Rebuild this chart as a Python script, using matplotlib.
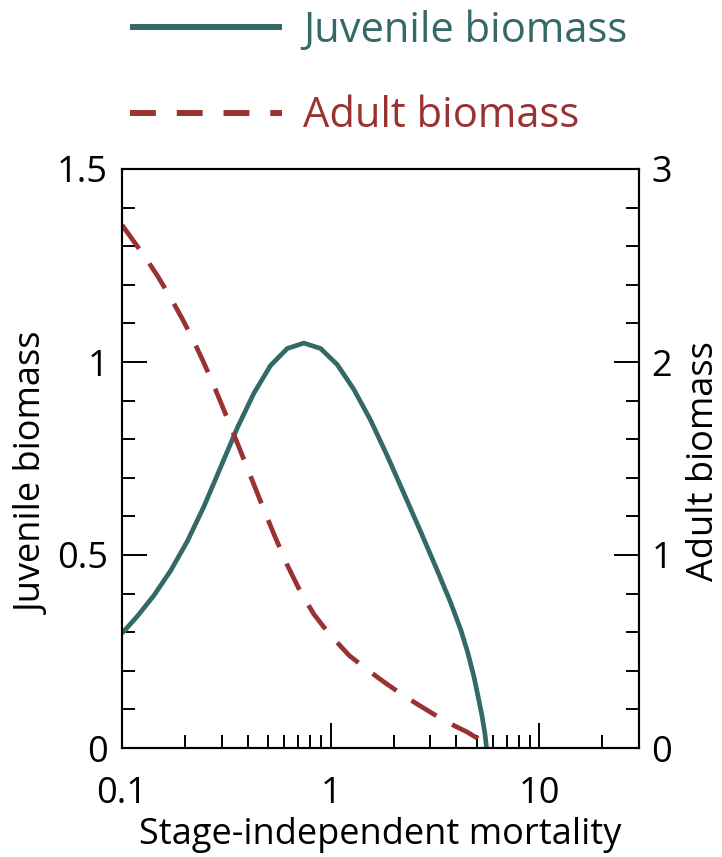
import numpy as np
import matplotlib
matplotlib.use('Agg')
import matplotlib.pyplot as plt
from matplotlib.ticker import MultipleLocator, FixedLocator, NullFormatter

plt.rcParams['font.family'] = ['Open Sans', 'DejaVu Sans']

# --- data ---
juv_mort = [0.1, 0.1183, 0.1421, 0.1708, 0.2053, 0.2466, 0.2966, 0.3566,
            0.4283, 0.515, 0.6192, 0.7437, 0.8944, 1.0755, 1.291, 1.553,
            1.866, 2.244, 2.70, 3.24, 3.76, 4.20, 4.52, 4.86, 5.13, 5.30,
            5.48, 5.58]
juv_biomass = [0.297, 0.341, 0.395, 0.459, 0.535, 0.625, 0.727, 0.829,
               0.919, 0.991, 1.035, 1.049, 1.035, 0.993, 0.929, 0.849,
               0.757, 0.659, 0.560, 0.460, 0.376, 0.306, 0.250, 0.184, 0.123,
               0.085, 0.038, 0.0]

adult_mort = [0.1, 0.1297, 0.1476, 0.171, 0.1944, 0.2173, 0.2423, 0.2706,
              0.302, 0.3435, 0.3837, 0.4285, 0.4786, 0.5346, 0.619, 0.7178,
              0.831, 0.98, 1.23, 1.553, 1.80, 2.08, 2.60, 3.24, 3.90, 4.52,
              5.05, 5.58]
adult_biomass = [2.71, 2.540, 2.448, 2.333, 2.224, 2.123, 2.014, 1.898,
                 1.773, 1.625, 1.495, 1.365, 1.235, 1.108, 0.948, 0.807,
                 0.693, 0.593, 0.478, 0.393, 0.342, 0.295, 0.227, 0.164,
                 0.116, 0.082, 0.050, 0.0]

y_left_ticks = [0, 0.5, 1, 1.5]
y_left_labels = ['0', '0.5', '1', '1.5']
y_right_ticks = [0, 1, 2, 3]
y_right_labels = ['0', '1', '2', '3']
x_ticks = [0.1, 1, 10]
x_labels = ['0.1', '1', '10']

JUV_COLOR = '#336a68'
ADULT_COLOR = '#9b3232'

fig = plt.figure(figsize=(7.22, 8.57), dpi=100)
ax = fig.add_axes([122 / 722, 1 - 748 / 857, 517 / 722, 579 / 857])
ax2 = ax.twinx()

l1, = ax.plot(juv_mort, juv_biomass, color=JUV_COLOR, lw=3.4,
              solid_capstyle='butt', solid_joinstyle='round',
              label='Juvenile biomass')
l2, = ax2.plot(adult_mort, adult_biomass, color=ADULT_COLOR, lw=3.4,
               dashes=(6.2, 3.8), dash_capstyle='butt', dash_joinstyle='round',
               label='Adult biomass')

ax.set_xscale('log')
ax.set_xlim(0.1, 30)
ax.set_ylim(0, 1.5)
ax2.set_ylim(0, 3)

ax.xaxis.set_major_locator(FixedLocator(x_ticks))
ax.set_xticklabels(x_labels)
ax.xaxis.set_minor_locator(FixedLocator([v * d for d in (0.1, 1, 10)
                                         for v in range(2, 10) if v * d <= 30]))
ax.xaxis.set_minor_formatter(NullFormatter())

ax.set_yticks(y_left_ticks)
ax.set_yticklabels(y_left_labels)
ax.yaxis.set_minor_locator(MultipleLocator(0.1))
ax2.set_yticks(y_right_ticks)
ax2.set_yticklabels(y_right_labels)
ax2.yaxis.set_minor_locator(MultipleLocator(0.2))

for a in (ax, ax2):
    for s in a.spines.values():
        s.set_linewidth(1.5)
    a.tick_params(which='major', direction='in', length=18, width=1.4, labelsize=26)
    a.tick_params(which='minor', direction='in', length=9.5, width=1.4)
ax.tick_params(axis='x', which='both', top=False, pad=20)
ax.tick_params(axis='y', which='both', right=False, pad=10)
ax2.tick_params(axis='y', which='both', left=False, pad=9)

ax.set_xlabel('Stage-independent mortality', fontsize=26, labelpad=4)
ax.set_ylabel('Juvenile biomass', fontsize=26)
ax2.set_ylabel('Adult biomass', fontsize=26)
ax.yaxis.set_label_coords(-0.135, 0.475)
ax2.yaxis.set_label_coords(1.09, 0.495)

leg = fig.legend(handles=[l1, l2], loc='upper left',
                 bbox_to_anchor=(130 / 722, 1 - 10 / 857),
                 frameon=False, fontsize=30, handlelength=3.65, handletextpad=0.5,
                 labelspacing=1.04, borderpad=0, borderaxespad=0)
for txt, c in zip(leg.get_texts(), (JUV_COLOR, ADULT_COLOR)):
    txt.set_color(c)
leg_lines = leg.get_lines()
leg_lines[0].set_linewidth(4.3)
leg_lines[1].set_linewidth(4.3)
leg_lines[1].set_dashes((4.33, 3.5))

fig.savefig('out.png', dpi=100)
